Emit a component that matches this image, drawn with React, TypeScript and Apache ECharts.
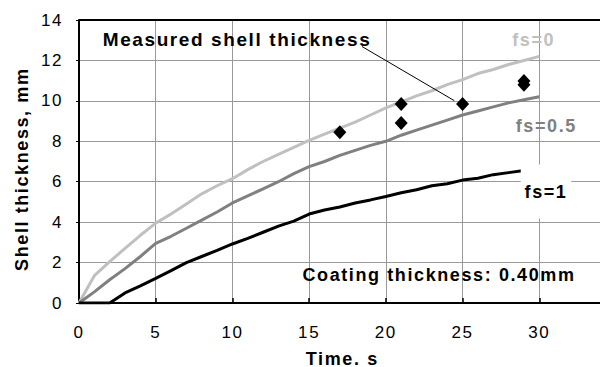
import React, { useEffect, useRef } from "react";
import * as echarts from "echarts";

// Time axis (s)
const timeS = [0, 1, 2, 3, 4, 5, 6, 7, 8, 9, 10, 11, 12, 13, 14, 15, 16, 17, 18, 19, 20, 21, 22, 23, 24, 25, 26, 27, 28, 29, 30];

// Calculated shell thickness (mm) for each solid fraction
const shellFs0 = [0, 1.35, 2.05, 2.7, 3.35, 3.95, 4.4, 4.9, 5.4, 5.8, 6.15, 6.6, 7.0, 7.35, 7.7, 8.05, 8.35, 8.65, 8.95, 9.3, 9.65, 9.95, 10.25, 10.5, 10.8, 11.05, 11.35, 11.55, 11.8, 12.0, 12.2];
const shellFs05 = [0, 0.55, 1.15, 1.7, 2.3, 2.95, 3.3, 3.7, 4.1, 4.5, 4.95, 5.3, 5.65, 6.0, 6.4, 6.75, 7.0, 7.3, 7.55, 7.8, 8.0, 8.3, 8.55, 8.8, 9.05, 9.3, 9.5, 9.7, 9.9, 10.05, 10.2];
const shellFs1 = [0, 0, 0, 0.5, 0.85, 1.22, 1.6, 2.0, 2.3, 2.6, 2.92, 3.2, 3.5, 3.8, 4.05, 4.4, 4.6, 4.75, 4.95, 5.1, 5.27, 5.45, 5.6, 5.8, 5.9, 6.08, 6.17, 6.35, 6.45, 6.55, 6.75];

// Measured shell thickness
const measuredTime = [17, 21, 21, 25, 29, 29];
const measuredThickness = [8.45, 9.85, 8.9, 9.85, 10.98, 10.8];

// Arrow annotation (data coordinates)
const arrowFrom = [18.44, 12.69];
const arrowTo = [24.46, 10.01];

const curveLabels = ["fs=0", "fs=0.5", "fs=1"];
const xMin = 0;
const xMax = 35;
const yMin = 0;
const yMax = 14;

export default function App() {
  const ref = useRef<HTMLDivElement>(null);

  useEffect(() => {
    if (!ref.current) return;
    const chart = echarts.init(ref.current, null, { renderer: "svg" });
    const font = "'Liberation Sans', Arial, Helvetica, sans-serif";
    const pairs = (ys: number[]) => timeS.map((t, i) => [t, ys[i]]);
    const curve = (ys: number[], color: string) => ({
      type: "line",
      data: pairs(ys),
      showSymbol: false,
      symbol: "none",
      z: 3,
      lineStyle: { color, width: 3 },
    });
    const txt = (
      text: string,
      x: number,
      y: number,
      color: string,
      size: number,
      extra: any = {},
      styleExtra: any = {}
    ) => ({
      type: "text",
      x,
      y,
      z: 20,
      ...extra,
      style: {
        text,
        fill: color,
        font: `bold ${size}px ${font}`,
        align: "center",
        verticalAlign: "middle",
        textAlign: "center",
        textVerticalAlign: "middle",
        ...styleExtra,
      },
    });

    chart.setOption({
      animation: false,
      grid: { left: 79, top: 20, right: 24, bottom: 64 },
      xAxis: {
        type: "value",
        min: xMin,
        max: xMax,
        interval: 5,
        axisLine: { show: true, onZero: false, lineStyle: { color: "#000", width: 2 } },
        axisTick: { show: true, inside: true, length: 5, lineStyle: { color: "#000", width: 1.5 } },
        axisLabel: { margin: 21, fontSize: 17, color: "#000", fontFamily: font, showMaxLabel: false },
        splitLine: { show: true, lineStyle: { color: "#999999", width: 1, type: "solid" } },
      },
      yAxis: {
        type: "value",
        min: yMin,
        max: yMax,
        interval: 2,
        axisLine: { show: true, onZero: false, lineStyle: { color: "#000", width: 2 } },
        axisTick: { show: true, inside: false, length: 3, lineStyle: { color: "#000", width: 1 } },
        axisLabel: { margin: 16, fontSize: 17, color: "#000", fontFamily: font },
        splitLine: { show: true, lineStyle: { color: "#999999", width: 1, type: "solid" } },
      },
      series: [
        {
          type: "line",
          data: [[xMin, yMax], [xMax, yMax]],
          showSymbol: false,
          symbol: "none",
          clip: false,
          z: 2,
          lineStyle: { color: "#000", width: 2 },
        },
        curve(shellFs0, "#c0c0c0"),
        curve(shellFs05, "#808080"),
        curve(shellFs1, "#000000"),
        {
          type: "scatter",
          data: measuredTime.map((t, i) => [t, measuredThickness[i]]),
          symbol: "diamond",
          symbolSize: [13, 14],
          itemStyle: { color: "#000", opacity: 1 },
          z: 5,
          markLine: {
            symbol: ["none", "arrow"],
            symbolSize: [0, 10],
            label: { show: false },
            lineStyle: { color: "#000", width: 1, type: "solid" },
            data: [[{ coord: arrowFrom }, { coord: arrowTo }]],
          },
        },
      ],
      graphic: [
        txt("Measured shell thickness", 237, 39, "#000", 19),
        txt("Coating thickness: 0.40mm", 439, 275, "#000", 18),
        txt(curveLabels[0], 533.7, 39.5, "#c0c0c0", 18),
        txt(curveLabels[1], 546.3, 126, "#808080", 18),
        txt(curveLabels[2], 546, 191.5, "#000", 18, {}, { backgroundColor: "#fff", padding: [18, 7, 18, 7] }),
        txt("Time. s", 342.3, 358.5, "#000", 18),
        txt("Shell thickness, mm", 21.5, 169.2, "#000", 18, { rotation: Math.PI / 2 }),
      ],
    });

    return () => chart.dispose();
  }, []);

  return (
    <div
      style={{
        position: "fixed",
        left: 0,
        top: 0,
        width: 600,
        height: 367,
        overflow: "hidden",
        background: "#fff",
        letterSpacing: "1.6px",
      }}
    >
      <div ref={ref} style={{ width: 640, height: 367 }} />
    </div>
  );
}
